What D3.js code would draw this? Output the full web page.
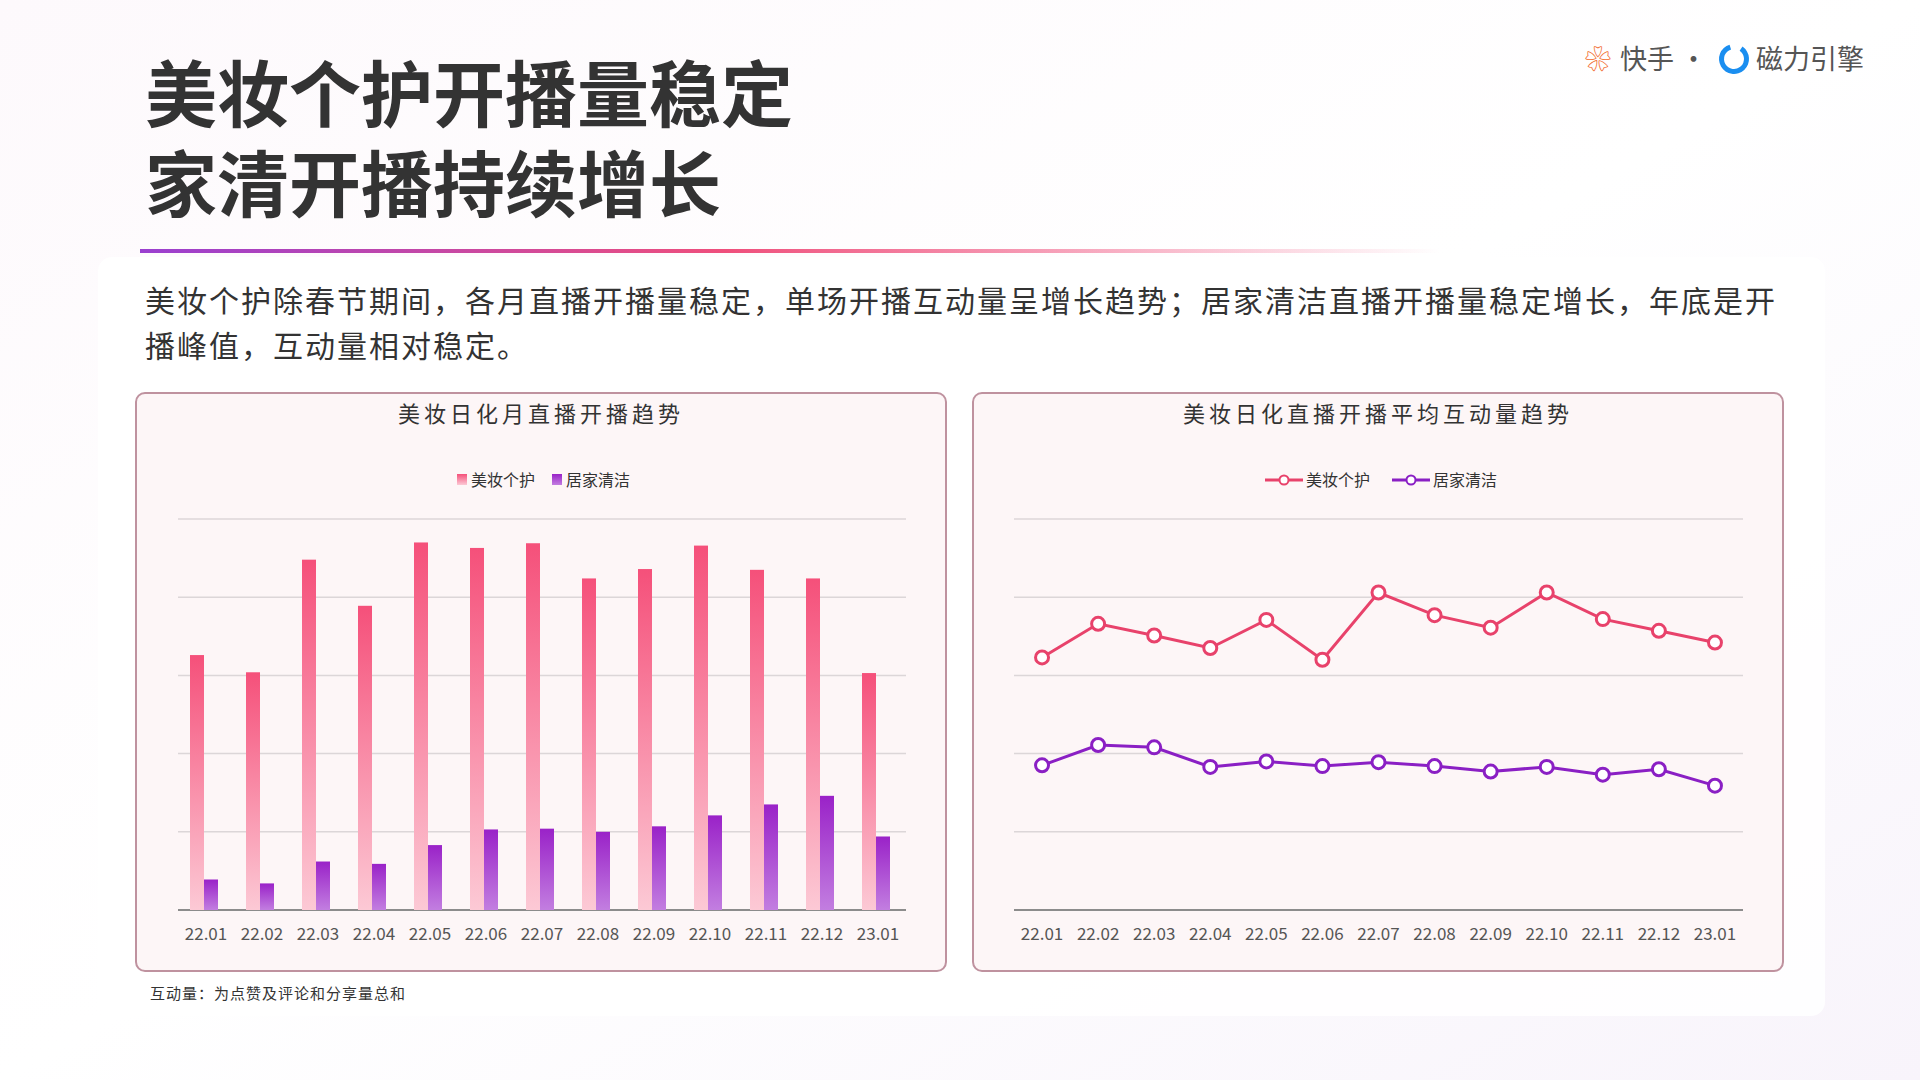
<!DOCTYPE html>
<html><head><meta charset="utf-8">
<script src="https://cdn.jsdelivr.net/npm/d3@7"></script>
<style>
body{margin:0;background:#fff;font-family:"Noto Sans CJK SC","Noto Sans",sans-serif;}
svg{display:block}
</style></head><body>
<svg id="c" width="1920" height="1080"></svg>
<script>
const months = ["22.01","22.02","22.03","22.04","22.05","22.06","22.07","22.08","22.09","22.10","22.11","22.12","23.01"];
const seriesNames = ["美妆个护","居家清洁"];
// monthly live-start volume (grid units, 0-5)
const beautyStarts = [3.26,3.04,4.48,3.89,4.70,4.63,4.69,4.24,4.36,4.66,4.35,4.24,3.03];
const homeStarts = [0.39,0.34,0.62,0.59,0.83,1.03,1.04,1.00,1.07,1.21,1.35,1.46,0.94];
// average interaction per live (grid units, 0-5)
const beautyInteract = [3.23,3.66,3.51,3.35,3.71,3.20,4.06,3.77,3.61,4.06,3.72,3.57,3.42];
const homeInteract = [1.85,2.11,2.08,1.83,1.90,1.84,1.89,1.84,1.77,1.83,1.73,1.80,1.59];

const svg = d3.select("#c");
const defs = svg.append("defs");

// background ------------------------------------------------------------
const bg = defs.append("linearGradient").attr("id","bg").attr("x1",0).attr("y1",0).attr("x2",1).attr("y2",1);
bg.append("stop").attr("offset","0%").attr("stop-color","#fdf9fc");
bg.append("stop").attr("offset","50%").attr("stop-color","#ffffff");
bg.append("stop").attr("offset","100%").attr("stop-color","#f8f4fb");
svg.append("rect").attr("width",1920).attr("height",1080).attr("fill","url(#bg)");
svg.append("rect").attr("x",98).attr("y",257).attr("width",1727).attr("height",759)
    .attr("rx",14).attr("fill","#ffffff").attr("opacity",0.85);

// title ----------------------------------------------------------------
svg.append("text").attr("x",145).attr("y",121).attr("font-size",72).attr("font-weight",700)
    .attr("fill","#333").text("美妆个护开播量稳定");
svg.append("text").attr("x",145).attr("y",211).attr("font-size",72).attr("font-weight",700)
    .attr("fill","#333").text("家清开播持续增长");
const tl = defs.append("linearGradient").attr("id","tl");
tl.append("stop").attr("offset","0%").attr("stop-color","#9a3fd0");
tl.append("stop").attr("offset","45%").attr("stop-color","#ef4f7c");
tl.append("stop").attr("offset","100%").attr("stop-color","#ef4f7c").attr("stop-opacity",0);
svg.append("rect").attr("x",140).attr("y",249).attr("width",1300).attr("height",4).attr("fill","url(#tl)");

// logo
svg.append("text").attr("x",1585).attr("y",69).attr("font-size",26).attr("fill","#f26b2c").text("❀");
svg.append("text").attr("x",1620).attr("y",69).attr("font-size",27).attr("fill","#555").text("快手 ·");
svg.append("path").attr("d",d3.arc()({innerRadius:10,outerRadius:15,startAngle:0.6,endAngle:2*Math.PI-0.3}))
    .attr("transform","translate(1734,59)").attr("fill","#1a8ef0");
svg.append("text").attr("x",1756).attr("y",69).attr("font-size",27).attr("fill","#555").text("磁力引擎");

// paragraph
const para = ["美妆个护除春节期间，各月直播开播量稳定，单场开播互动量呈增长趋势；居家清洁直播开播量稳定增长，年底是开",
              "播峰值，互动量相对稳定。"];
para.forEach((t,i) => svg.append("text").attr("x",145).attr("y",312+i*45).attr("font-size",30)
    .attr("letter-spacing",2).attr("fill","#333").text(t));

svg.append("text").attr("x",150).attr("y",999).attr("font-size",15).attr("letter-spacing",1).attr("fill","#333")
    .text("互动量：为点赞及评论和分享量总和");

// gradients for bars
const gp = defs.append("linearGradient").attr("id","gp").attr("x1",0).attr("y1",0).attr("x2",0).attr("y2",1);
gp.append("stop").attr("offset","0%").attr("stop-color","#f5507a");
gp.append("stop").attr("offset","100%").attr("stop-color","#fcc9d5");
const gv = defs.append("linearGradient").attr("id","gv").attr("x1",0).attr("y1",0).attr("x2",0).attr("y2",1);
gv.append("stop").attr("offset","0%").attr("stop-color","#9a22c8");
gv.append("stop").attr("offset","100%").attr("stop-color","#c27ee0");

function panel(x0, title) {
    const g = svg.append("g");
    g.append("rect").attr("x",x0).attr("y",393).attr("width",810).attr("height",578).attr("rx",9)
        .attr("fill","#fdf6f7").attr("stroke","#bf929f").attr("stroke-width",2);
    g.append("text").attr("x",x0+405).attr("y",422).attr("text-anchor","middle").attr("font-size",22)
        .attr("letter-spacing",4).attr("fill","#333").text(title);
    return g;
}

function axes(g, x, y, left, right) {
    [1,2,3,4,5].forEach(v => g.append("line").attr("x1",left).attr("x2",right)
        .attr("y1",y(v)).attr("y2",y(v)).attr("stroke","#dcd6d8").attr("stroke-width",1.5));
    g.append("line").attr("x1",left).attr("x2",right).attr("y1",y(0)).attr("y2",y(0))
        .attr("stroke","#8c8c8c").attr("stroke-width",2);
    g.selectAll("text.tick").data(months).enter().append("text").attr("class","tick")
        .attr("x",d => x(d)+x.bandwidth()/2).attr("y",940).attr("text-anchor","middle")
        .attr("font-size",17).attr("fill","#555").text(d => d);
}

// LEFT: bars ---------------------------------------------------------------
{
    const g = panel(136, "美妆日化月直播开播趋势");
    const x = d3.scaleBand().domain(months).range([178,906]).padding(0);
    const y = d3.scaleLinear().domain([0,5]).range([910,519]);
    axes(g, x, y, 178, 906);
    const bw = 14;
    g.selectAll("rect.p").data(beautyStarts).enter().append("rect")
        .attr("x",(d,i) => x(months[i])+x.bandwidth()/2-bw-2).attr("width",bw)
        .attr("y",d => y(d)).attr("height",d => y(0)-y(d)).attr("fill","url(#gp)");
    g.selectAll("rect.v").data(homeStarts).enter().append("rect")
        .attr("x",(d,i) => x(months[i])+x.bandwidth()/2-2).attr("width",bw)
        .attr("y",d => y(d)).attr("height",d => y(0)-y(d)).attr("fill","url(#gv)");
    const lg = [{n:seriesNames[0],f:"url(#gp)",x:457},{n:seriesNames[1],f:"url(#gv)",x:552}];
    lg.forEach(l => {
        g.append("rect").attr("x",l.x).attr("y",474).attr("width",10).attr("height",11).attr("fill",l.f);
        g.append("text").attr("x",l.x+14).attr("y",486).attr("font-size",16).attr("fill","#333").text(l.n);
    });
}

// RIGHT: lines -------------------------------------------------------------
{
    const g = panel(973, "美妆日化直播开播平均互动量趋势");
    const x = d3.scaleBand().domain(months).range([1014,1743]).padding(0);
    const y = d3.scaleLinear().domain([0,5]).range([910,519]);
    axes(g, x, y, 1014, 1743);
    const cols = ["#e8426b","#8a1fc4"];
    [beautyInteract, homeInteract].forEach((s,k) => {
        const line = d3.line().x((d,i) => x(months[i])+x.bandwidth()/2).y(d => y(d));
        g.append("path").datum(s).attr("d",line).attr("fill","none").attr("stroke",cols[k]).attr("stroke-width",3);
        g.selectAll("circle.s"+k).data(s).enter().append("circle")
            .attr("cx",(d,i) => x(months[i])+x.bandwidth()/2).attr("cy",d => y(d)).attr("r",6.5)
            .attr("fill","#fff").attr("stroke",cols[k]).attr("stroke-width",3);
        const lx = [1265,1392][k];
        g.append("line").attr("x1",lx).attr("x2",lx+38).attr("y1",480).attr("y2",480)
            .attr("stroke",cols[k]).attr("stroke-width",3);
        g.append("circle").attr("cx",lx+19).attr("cy",480).attr("r",4.5).attr("fill","#fff")
            .attr("stroke",cols[k]).attr("stroke-width",2);
        g.append("text").attr("x",lx+41).attr("y",486).attr("font-size",16).attr("fill","#333").text(seriesNames[k]);
    });
}
</script></body></html>
